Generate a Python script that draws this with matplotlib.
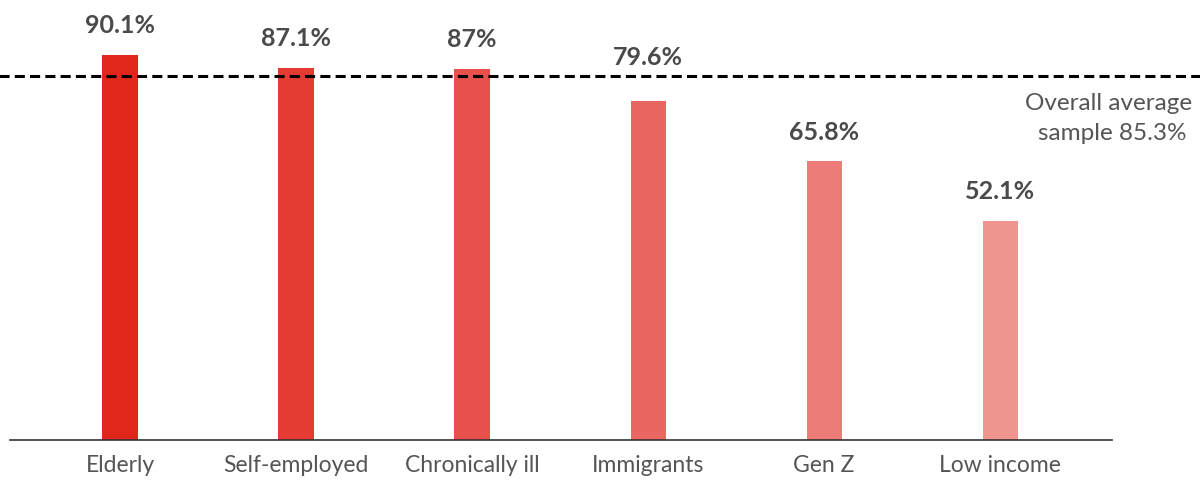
import matplotlib.pyplot as plt
import numpy as np

# data
groups = ["Elderly", "Self-employed", "Chronically ill", "Immigrants", "Gen Z", "Low income"]
shares = [90.1, 87.1, 87.0, 79.6, 65.8, 52.1]
value_labels = ["90.1%", "87.1%", "87%", "79.6%", "65.8%", "52.1%"]
overall_avg = 85.3
bar_colors = ["#E1261C", "#E53B33", "#E8504B", "#EA6661", "#ED7C78", "#F0948F"]

plt.rcParams['font.family'] = ['Lato', 'DejaVu Sans']

fig = plt.figure(figsize=(12, 4.8), dpi=100)
# axes: x from 10px to 1112px, baseline line at y=440px, top at figure top
ax = fig.add_axes([10 / 1200, 40 / 480, 1102 / 1200, 440 / 480])

x = np.arange(len(groups))
ax.bar(x, shares, width=0.2, color=bar_colors, zorder=2)

# the Immigrants label sits higher so it clears the dashed line
lift = {3: 10}
for i, (xi, v, lab) in enumerate(zip(x, shares, value_labels)):
    ax.annotate(lab, (xi, v), xytext=(0, 21 + lift.get(i, 0)), textcoords='offset points',
                ha='center', va='center', fontsize=18, fontweight='bold',
                color='#4a4a4a')

ax.axhline(overall_avg, xmin=-0.02, xmax=1.1, color='black', lw=2.2,
           dashes=(3.3, 1.7), clip_on=False, zorder=3)
ax.text(1192 / 1200, 1 - 104 / 480, "Overall average", transform=fig.transFigure,
        ha='right', va='center', fontsize=17.5, color='#555555')
ax.text(1187 / 1200, 1 - 133 / 480, "sample 85.3%", transform=fig.transFigure,
        ha='right', va='center', fontsize=17.5, color='#555555')

ax.set_xlim(-0.625, 5.635)
ax.set_ylim(2.0, 102.7)
ax.set_xticks(x)
ax.set_xticklabels(groups, fontsize=16.5, color='#555555')
ax.tick_params(axis='x', length=0, pad=11)
ax.set_yticks([])

for side in ['top', 'right', 'left']:
    ax.spines[side].set_visible(False)
ax.spines['bottom'].set_color('#333333')
ax.spines['bottom'].set_linewidth(1.2)

fig.savefig("out.png", dpi=100)
